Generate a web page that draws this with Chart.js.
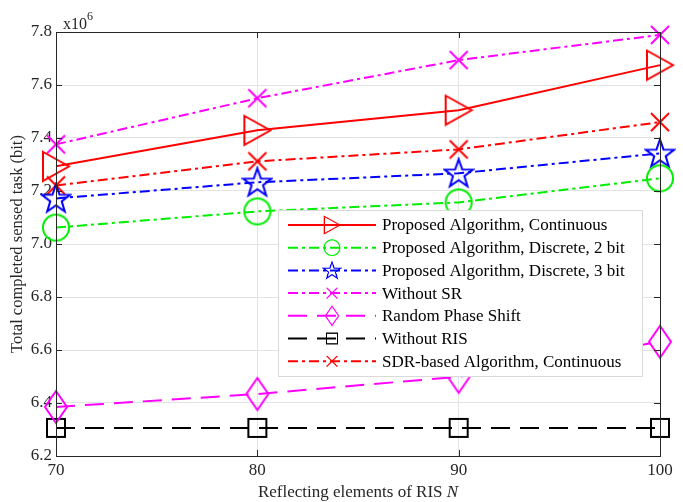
<!DOCTYPE html>
<html>
<head>
<meta charset="utf-8">
<script src="https://cdn.jsdelivr.net/npm/chart.js"></script>
<style>
  html, body { margin: 0; padding: 0; background: #fff; }
  #wrap { width: 683px; height: 502px; }
</style>
</head>
<body>
<div id="wrap"><canvas id="taskChart" width="683" height="502"></canvas></div>
<script>
// valeurs (x1e6 bit)
const ris = [70, 80, 90, 100];
const yTicks = [6.2, 6.4, 6.6, 6.8, 7.0, 7.2, 7.4, 7.6, 7.8];
const names = [
    'Proposed Algorithm, Continuous',
    'Proposed Algorithm, Discrete, 2 bit',
    'Proposed Algorithm, Discrete, 3 bit',
    'Without SR',
    'Random Phase Shift',
    'Without RIS',
    'SDR-based Algorithm, Continuous'
];
const propCont = [7.293, 7.429, 7.505, 7.675];
const propDisc2 = [7.062, 7.123, 7.157, 7.248];
const propDisc3 = [7.172, 7.233, 7.267, 7.342];
const withoutSR = [7.376, 7.550, 7.694, 7.789];
const randomPhase = [6.385, 6.434, 6.499, 6.631];
const withoutRIS = [6.306, 6.306, 6.306, 6.306];
const sdrCont = [7.221, 7.312, 7.357, 7.460];

const FONT = '"Liberation Serif", "Times New Roman", serif';
const dashDot = [10, 4, 3, 4];
const dashed = [19, 10];

// dessin des marqueurs façon MATLAB
function marker(kind, color) {
    const c = document.createElement('canvas');
    const sizes = { tri: [30, 33], circ: [30, 30], star: [32, 32], x: [22, 22], dia: [26, 36], sq: [22, 22] };
    const [w, h] = sizes[kind];
    c.width = w; c.height = h;
    const g = c.getContext('2d');
    g.strokeStyle = color;
    g.lineWidth = 2;
    g.beginPath();
    if (kind === 'tri') {
        g.moveTo(2, 2); g.lineTo(w - 2, h / 2); g.lineTo(2, h - 2); g.closePath();
    } else if (kind === 'circ') {
        g.arc(w / 2, h / 2, 13, 0, Math.PI * 2);
    } else if (kind === 'star') {
        for (let i = 0; i < 10; i++) {
            const r = i % 2 === 0 ? 15 : 6;
            const a = -Math.PI / 2 + i * Math.PI / 5;
            const px = w / 2 + r * Math.cos(a), py = h / 2 + 1 + r * Math.sin(a);
            if (i === 0) g.moveTo(px, py); else g.lineTo(px, py);
        }
        g.closePath();
    } else if (kind === 'x') {
        g.moveTo(2, 2); g.lineTo(w - 2, h - 2); g.moveTo(w - 2, 2); g.lineTo(2, h - 2);
    } else if (kind === 'dia') {
        g.moveTo(w / 2, 2); g.lineTo(w - 2, h / 2); g.lineTo(w / 2, h - 2); g.lineTo(2, h / 2); g.closePath();
    } else if (kind === 'sq') {
        g.rect(2, 2, w - 4, h - 4);
    }
    g.stroke();
    return c;
}

const styles = [
    { color: '#ff0000', dash: [], mk: marker('tri', '#ff0000') },
    { color: '#00ee00', dash: dashDot, mk: marker('circ', '#00ee00') },
    { color: '#0000ff', dash: dashDot, mk: marker('star', '#0000ff') },
    { color: '#ff00ff', dash: dashDot, mk: marker('x', '#ff00ff') },
    { color: '#ff00ff', dash: dashed, mk: marker('dia', '#ff00ff') },
    { color: '#000000', dash: dashed, mk: marker('sq', '#000000') },
    { color: '#ff0000', dash: dashDot, mk: marker('x', '#ff0000') }
];
const series = [propCont, propDisc2, propDisc3, withoutSR, randomPhase, withoutRIS, sdrCont];

const datasets = series.map((vals, i) => ({
    label: names[i],
    data: vals.map((v, k) => ({ x: ris[k], y: v })),
    borderColor: styles[i].color,
    borderWidth: 2,
    borderDash: styles[i].dash,
    pointStyle: styles[i].mk,
    pointRadius: 10,
    fill: false,
    tension: 0,
    clip: false
}));

// cadre, graduations intérieures, titres, exposant et légende
const matlabLook = {
    id: 'matlabLook',
    afterDatasetsDraw(chart) {
        const ctx = chart.ctx;
        const a = chart.chartArea;
        const xs = chart.scales.x, ys = chart.scales.y;
        ctx.save();
        // cadre
        ctx.strokeStyle = '#262626';
        ctx.lineWidth = 1;
        ctx.setLineDash([]);
        ctx.strokeRect(a.left + 0.5, a.top + 0.5, a.right - a.left, a.bottom - a.top);
        ctx.beginPath();
        ris.forEach(v => {
            const px = Math.round(xs.getPixelForValue(v)) + 0.5;
            ctx.moveTo(px, a.bottom); ctx.lineTo(px, a.bottom - 6);
            ctx.moveTo(px, a.top); ctx.lineTo(px, a.top + 6);
        });
        yTicks.forEach(v => {
            const py = Math.round(ys.getPixelForValue(v)) + 0.5;
            ctx.moveTo(a.left, py); ctx.lineTo(a.left + 6, py);
            ctx.moveTo(a.right, py); ctx.lineTo(a.right - 6, py);
        });
        ctx.stroke();

        // exposant x10^6
        ctx.fillStyle = '#262626';
        ctx.textBaseline = 'alphabetic';
        ctx.textAlign = 'left';
        ctx.font = '16px ' + FONT;
        ctx.fillText('x10', a.left + 7, a.top - 3);
        const w10 = ctx.measureText('x10').width;
        ctx.font = '12px ' + FONT;
        ctx.fillText('6', a.left + 7 + w10, a.top - 12);

        // titre axe x avec N en italique
        ctx.font = '17px ' + FONT;
        const t1 = 'Reflecting elements of RIS ';
        const wt1 = ctx.measureText(t1).width;
        ctx.font = 'italic 17px ' + FONT;
        const wN = ctx.measureText('N').width;
        const x0 = (a.left + a.right) / 2 - (wt1 + wN) / 2;
        ctx.font = '17px ' + FONT;
        ctx.fillText(t1, x0, 497);
        ctx.font = 'italic 17px ' + FONT;
        ctx.fillText('N', x0 + wt1, 497);

        // titre axe y
        ctx.save();
        ctx.translate(22, (a.top + a.bottom) / 2);
        ctx.rotate(-Math.PI / 2);
        ctx.textAlign = 'center';
        ctx.font = '16.5px ' + FONT;
        ctx.fillText('Total completed sensed task (bit)', 0, 0);
        ctx.restore();

        // légende
        const lx = 278, ly = 210, lw = 364, lh = 166, rowH = 22.7;
        ctx.fillStyle = '#ffffff';
        ctx.fillRect(lx, ly, lw, lh);
        ctx.strokeStyle = '#d9d9d9';
        ctx.strokeRect(lx + 0.5, ly + 0.5, lw, lh);
        ctx.font = '17px ' + FONT;
        ctx.textBaseline = 'middle';
        names.forEach((name, i) => {
            const cy = ly + 15 + i * rowH;
            const st = styles[i];
            ctx.strokeStyle = st.color;
            ctx.lineWidth = 2;
            ctx.setLineDash(st.dash);
            ctx.beginPath();
            ctx.moveTo(288, cy); ctx.lineTo(376, cy);
            ctx.stroke();
            ctx.setLineDash([]);
            const s = 0.6;
            ctx.drawImage(st.mk, 332 - st.mk.width * s / 2, cy - st.mk.height * s / 2, st.mk.width * s, st.mk.height * s);
            ctx.fillStyle = '#000';
            ctx.fillText(name, 382, cy + 1);
        });
        ctx.restore();
    }
};

const ctx = document.getElementById('taskChart').getContext('2d');
const taskChart = new Chart(ctx, {
    type: 'line',
    data: { datasets: datasets },
    options: {
        responsive: false,
        animation: false,
        events: [],
        layout: { padding: { top: 32, right: 23, left: 0, bottom: 0 } },
        plugins: { legend: { display: false }, tooltip: { enabled: false } },
        scales: {
            x: {
                type: 'linear',
                min: 70,
                max: 100,
                afterFit: s => { s.height = 46; },
                afterBuildTicks: s => { s.ticks = ris.map(v => ({ value: v })); },
                ticks: { color: '#262626', font: { family: FONT, size: 17 }, padding: 4 },
                grid: { color: '#e3e3e3', drawTicks: false },
                border: { color: '#262626' }
            },
            y: {
                min: 6.2,
                max: 7.8,
                afterFit: s => { s.width = 56; },
                afterBuildTicks: s => { s.ticks = yTicks.map(v => ({ value: v })); },
                ticks: { color: '#262626', font: { family: FONT, size: 17 }, padding: 4, callback: v => v.toFixed(1) },
                grid: { color: '#e3e3e3', drawTicks: false },
                border: { color: '#262626' }
            }
        }
    },
    plugins: [matlabLook]
});
</script>
</body>
</html>
